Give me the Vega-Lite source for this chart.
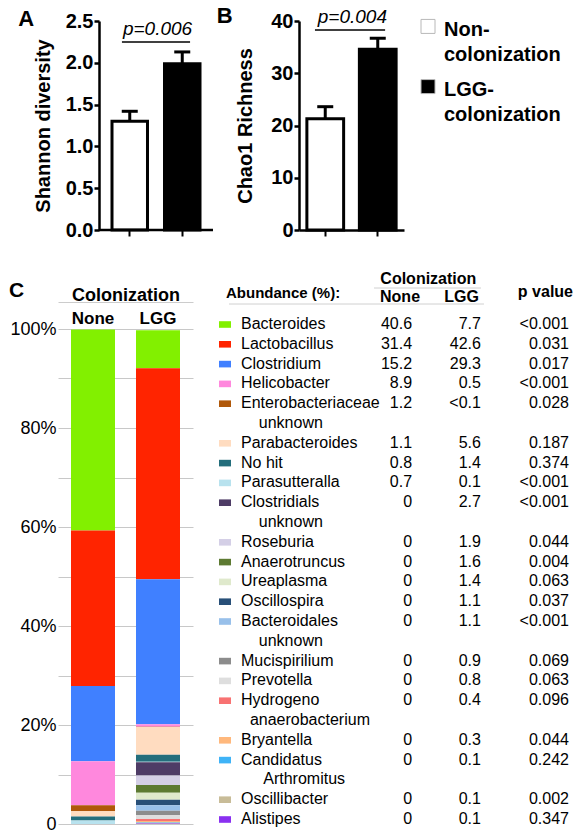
{
  "$schema": "https://vega.github.io/schema/vega-lite/v6.json",
  "background": "white",
  "padding": {"left": 8, "top": 4, "right": 0, "bottom": 0},
  "config": {
    "font": "Liberation Sans",
    "view": {"stroke": null},
    "axis": {"labelColor": "black", "titleColor": "black"},
    "title": {"color": "black"},
    "text": {"color": "black"}
  },
  "datasets": {
    "alpha": [
      {"group": "Non", "mean": 1.30, "upper": 1.42},
      {"group": "LGG", "mean": 1.99, "upper": 2.13}
    ],
    "chao": [
      {"group": "Non", "mean": 21.3, "upper": 23.6},
      {"group": "LGG", "mean": 34.6, "upper": 36.7}
    ],
    "stack": [
      {"group": "None", "taxon": "Bacteroides", "rank": 1, "pct": 40.6},
      {"group": "None", "taxon": "Lactobacillus", "rank": 2, "pct": 31.4},
      {"group": "None", "taxon": "Clostridium", "rank": 3, "pct": 15.2},
      {"group": "None", "taxon": "Helicobacter", "rank": 4, "pct": 8.9},
      {"group": "None", "taxon": "Enterobacteriaceae unknown", "rank": 5, "pct": 1.2},
      {"group": "None", "taxon": "Parabacteroides", "rank": 6, "pct": 1.1},
      {"group": "None", "taxon": "No hit", "rank": 7, "pct": 0.8},
      {"group": "None", "taxon": "Parasutteralla", "rank": 8, "pct": 0.7},
      {"group": "LGG", "taxon": "Bacteroides", "rank": 1, "pct": 7.7},
      {"group": "LGG", "taxon": "Lactobacillus", "rank": 2, "pct": 42.6},
      {"group": "LGG", "taxon": "Clostridium", "rank": 3, "pct": 29.3},
      {"group": "LGG", "taxon": "Helicobacter", "rank": 4, "pct": 0.5},
      {"group": "LGG", "taxon": "Enterobacteriaceae unknown", "rank": 5, "pct": 0.05},
      {"group": "LGG", "taxon": "Parabacteroides", "rank": 6, "pct": 5.6},
      {"group": "LGG", "taxon": "No hit", "rank": 7, "pct": 1.4},
      {"group": "LGG", "taxon": "Parasutteralla", "rank": 8, "pct": 0.1},
      {"group": "LGG", "taxon": "Clostridials unknown", "rank": 9, "pct": 2.7},
      {"group": "LGG", "taxon": "Roseburia", "rank": 10, "pct": 1.9},
      {"group": "LGG", "taxon": "Anaerotruncus", "rank": 11, "pct": 1.6},
      {"group": "LGG", "taxon": "Ureaplasma", "rank": 12, "pct": 1.4},
      {"group": "LGG", "taxon": "Oscillospira", "rank": 13, "pct": 1.1},
      {"group": "LGG", "taxon": "Bacteroidales unknown", "rank": 14, "pct": 1.1},
      {"group": "LGG", "taxon": "Mucispirilium", "rank": 15, "pct": 0.9},
      {"group": "LGG", "taxon": "Prevotella", "rank": 16, "pct": 0.8},
      {"group": "LGG", "taxon": "Hydrogeno anaerobacterium", "rank": 17, "pct": 0.4},
      {"group": "LGG", "taxon": "Bryantella", "rank": 18, "pct": 0.3},
      {"group": "LGG", "taxon": "Candidatus Arthromitus", "rank": 19, "pct": 0.1},
      {"group": "LGG", "taxon": "Oscillibacter", "rank": 20, "pct": 0.1},
      {"group": "LGG", "taxon": "Alistipes", "rank": 21, "pct": 0.1}
    ],
    "table": [
      {"taxon": "Bacteroides", "label": "Bacteroides", "none": "40.6", "lgg": "7.7", "p": "<0.001"},
      {"taxon": "Lactobacillus", "label": "Lactobacillus", "none": "31.4", "lgg": "42.6", "p": "0.031"},
      {"taxon": "Clostridium", "label": "Clostridium", "none": "15.2", "lgg": "29.3", "p": "0.017"},
      {"taxon": "Helicobacter", "label": "Helicobacter", "none": "8.9", "lgg": "0.5", "p": "<0.001"},
      {"taxon": "Enterobacteriaceae unknown", "label": "Enterobacteriaceae\n\u200b\u00a0\u00a0\u00a0\u00a0unknown", "none": "1.2", "lgg": "<0.1", "p": "0.028"},
      {"taxon": "Parabacteroides", "label": "Parabacteroides", "none": "1.1", "lgg": "5.6", "p": "0.187"},
      {"taxon": "No hit", "label": "No hit", "none": "0.8", "lgg": "1.4", "p": "0.374"},
      {"taxon": "Parasutteralla", "label": "Parasutteralla", "none": "0.7", "lgg": "0.1", "p": "<0.001"},
      {"taxon": "Clostridials unknown", "label": "Clostridials\n\u200b\u00a0\u00a0\u00a0\u00a0unknown", "none": "0", "lgg": "2.7", "p": "<0.001"},
      {"taxon": "Roseburia", "label": "Roseburia", "none": "0", "lgg": "1.9", "p": "0.044"},
      {"taxon": "Anaerotruncus", "label": "Anaerotruncus", "none": "0", "lgg": "1.6", "p": "0.004"},
      {"taxon": "Ureaplasma", "label": "Ureaplasma", "none": "0", "lgg": "1.4", "p": "0.063"},
      {"taxon": "Oscillospira", "label": "Oscillospira", "none": "0", "lgg": "1.1", "p": "0.037"},
      {"taxon": "Bacteroidales unknown", "label": "Bacteroidales\n\u200b\u00a0\u00a0\u00a0\u00a0unknown", "none": "0", "lgg": "1.1", "p": "<0.001"},
      {"taxon": "Mucispirilium", "label": "Mucispirilium", "none": "0", "lgg": "0.9", "p": "0.069"},
      {"taxon": "Prevotella", "label": "Prevotella", "none": "0", "lgg": "0.8", "p": "0.063"},
      {"taxon": "Hydrogeno anaerobacterium", "label": "Hydrogeno\n\u200b\u00a0\u00a0anaerobacterium", "none": "0", "lgg": "0.4", "p": "0.096"},
      {"taxon": "Bryantella", "label": "Bryantella", "none": "0", "lgg": "0.3", "p": "0.044"},
      {"taxon": "Candidatus Arthromitus", "label": "Candidatus\n\u200b\u00a0\u00a0\u00a0\u00a0\u00a0Arthromitus", "none": "0", "lgg": "0.1", "p": "0.242"},
      {"taxon": "Oscillibacter", "label": "Oscillibacter", "none": "0", "lgg": "0.1", "p": "0.002"},
      {"taxon": "Alistipes", "label": "Alistipes", "none": "0", "lgg": "0.1", "p": "0.347"}
    ]
  },
  "spacing": 31,
  "vconcat": [
    {
      "spacing": 1,
      "hconcat": [
        {
          "width": 155,
          "height": 209,
          "title": {"text": "A", "anchor": "start", "fontSize": 22, "fontWeight": "bold", "dx": -15, "offset": -20},
          "data": {"name": "alpha"},
          "encoding": {
            "x": {"field": "group", "type": "nominal", "sort": ["Non", "LGG"],
              "scale": {"domain": ["Non", "LGG"], "paddingInner": 0.324, "paddingOuter": 0.638, "align": 0.806},
              "axis": {"title": null, "labels": false, "domain": false, "tickColor": "black", "tickWidth": 2, "tickSize": 6}}
          },
          "layer": [
            {
              "mark": {"type": "bar", "stroke": "black", "strokeWidth": 3},
              "encoding": {
                "y": {"field": "mean", "type": "quantitative", "scale": {"domain": [0, 2.5], "nice": false},
                  "axis": {"title": "Shannon diversity", "offset": -41, "values": [0, 0.5, 1, 1.5, 2, 2.5], "format": ".1f", "labelFontSize": 20, "labelFontWeight": "bold", "titleFontSize": 20, "titleFontWeight": "bold", "domainColor": "black", "domainWidth": 2.5, "tickColor": "black", "tickWidth": 2.5, "tickSize": 5, "labelPadding": 1, "titlePadding": 12, "grid": false}},
                "fill": {"field": "group", "type": "nominal", "scale": {"domain": ["Non", "LGG"], "range": ["white", "black"]}, "legend": null}
              }
            },
            {
              "mark": {"type": "rule", "strokeWidth": 3, "color": "black"},
              "encoding": {"y": {"field": "mean", "type": "quantitative"}, "y2": {"field": "upper"}}
            },
            {
              "mark": {"type": "tick", "thickness": 3, "size": 16, "color": "black", "opacity": 1},
              "encoding": {"y": {"field": "upper", "type": "quantitative"}}
            },
            {
              "data": {"values": [{}]},
              "mark": {"type": "rule", "strokeWidth": 2.5, "color": "black"},
              "encoding": {
                "x": {"datum": "Non", "bandPosition": -0.366},
                "x2": {"datum": "LGG", "bandPosition": 1.366},
                "y": {"datum": 0, "type": "quantitative"}
              }
            },
            {
              "data": {"values": [{}]},
              "mark": {"type": "rule", "strokeWidth": 1.5, "color": "black"},
              "encoding": {
                "x": {"datum": "Non", "bandPosition": 0.28},
                "x2": {"datum": "LGG", "bandPosition": 0.72},
                "y": {"datum": 2.25, "type": "quantitative"}
              }
            },
            {
              "data": {"values": [{}]},
              "mark": {"type": "text", "fontStyle": "italic", "fontSize": 19, "align": "center", "baseline": "alphabetic", "dx": -7, "dy": -7},
              "encoding": {
                "x": {"datum": "LGG", "bandPosition": 0},
                "y": {"datum": 2.25, "type": "quantitative"},
                "text": {"value": "p=0.006"}
              }
            }
          ]
        },
        {
          "width": 105,
          "height": 209,
          "title": {"text": "B", "anchor": "start", "fontSize": 22, "fontWeight": "bold", "dx": -19, "offset": -20},
          "data": {"name": "chao"},
          "encoding": {
            "x": {"field": "group", "type": "nominal", "sort": ["Non", "LGG"],
              "scale": {"domain": ["Non", "LGG"], "paddingInner": 0.3, "paddingOuter": 0.15},
              "axis": {"title": null, "labels": false, "domainColor": "black", "domainWidth": 2.5, "tickColor": "black", "tickWidth": 2, "tickSize": 6}}
          },
          "layer": [
            {
              "mark": {"type": "bar", "stroke": "black", "strokeWidth": 3},
              "encoding": {
                "y": {"field": "mean", "type": "quantitative", "scale": {"domain": [0, 40], "nice": false},
                  "axis": {"title": "Chao1 Richness", "values": [0, 10, 20, 30, 40], "format": "d", "labelFontSize": 20, "labelFontWeight": "bold", "titleFontSize": 20, "titleFontWeight": "bold", "domainColor": "black", "domainWidth": 2.5, "tickColor": "black", "tickWidth": 2.5, "tickSize": 5, "labelPadding": 1, "titlePadding": 15, "grid": false}},
                "fill": {"field": "group", "type": "nominal", "scale": {"domain": ["Non", "LGG"], "range": ["white", "black"]}, "legend": null}
              }
            },
            {
              "mark": {"type": "rule", "strokeWidth": 3, "color": "black"},
              "encoding": {"y": {"field": "mean", "type": "quantitative"}, "y2": {"field": "upper"}}
            },
            {
              "mark": {"type": "tick", "thickness": 3, "size": 16, "color": "black", "opacity": 1},
              "encoding": {"y": {"field": "upper", "type": "quantitative"}}
            },
            {
              "data": {"values": [{}]},
              "mark": {"type": "rule", "strokeWidth": 1.5, "color": "black"},
              "encoding": {
                "x": {"datum": "Non", "bandPosition": 0.22},
                "x2": {"datum": "LGG", "bandPosition": 0.7},
                "y": {"datum": 38.3, "type": "quantitative"}
              }
            },
            {
              "data": {"values": [{}]},
              "mark": {"type": "text", "fontStyle": "italic", "fontSize": 19, "align": "center", "baseline": "alphabetic", "dx": -7, "dy": -7},
              "encoding": {
                "x": {"datum": "LGG", "bandPosition": 0},
                "y": {"datum": 38.3, "type": "quantitative"},
                "text": {"value": "p=0.004"}
              }
            }
          ]
        },
        {
          "width": 46,
          "height": 71,
          "data": {"values": [{"group": "Non", "label": "Non-\ncolonization"}, {"group": "LGG", "label": "LGG-\ncolonization"}]},
          "encoding": {
            "y": {"field": "group", "type": "nominal", "scale": {"type": "point", "domain": ["Non", "LGG"], "padding": 0.09}, "axis": null}
          },
          "layer": [
            {
              "mark": {"type": "point", "shape": "square", "filled": true, "size": 196, "stroke": "#b8b8b8", "strokeWidth": 1, "opacity": 1},
              "encoding": {"fill": {"field": "group", "type": "nominal", "scale": {"domain": ["Non", "LGG"], "range": ["white", "black"]}, "legend": null}}
            },
            {
              "mark": {"type": "text", "align": "left", "baseline": "alphabetic", "dx": 16, "dy": 9.5, "fontSize": 20, "fontWeight": "bold", "lineBreak": "\n", "lineHeight": 25},
              "encoding": {"text": {"field": "label"}}
            }
          ]
        }
      ]
    },
    {
      "spacing": 26,
      "hconcat": [
        {
          "width": 135,
          "height": 495,
          "title": {"text": "C", "anchor": "start", "fontSize": 21, "fontWeight": "bold", "dx": -1, "offset": -15},
          "data": {"name": "stack"},
          "mark": {"type": "bar"},
          "encoding": {
            "x": {"field": "group", "type": "nominal", "sort": ["None", "LGG"],
              "scale": {"domain": ["None", "LGG"], "paddingInner": 0.323, "paddingOuter": 0.2},
              "axis": {"orient": "top", "title": "Colonization", "offset": 27, "ticks": false, "tickSize": 0, "labelPadding": -21, "labelBaseline": "alphabetic", "labelAngle": 0, "labelFontSize": 17, "labelFontWeight": "bold", "titleFontSize": 18, "titleFontWeight": "bold", "titlePadding": -2, "domainColor": "#cccccc", "domainWidth": 1}},
            "y": {"field": "pct", "type": "quantitative", "stack": "zero", "scale": {"domain": [0, 100], "nice": false},
              "axis": {"title": null, "values": [0, 10, 20, 30, 40, 50, 60, 70, 80, 90, 100], "labelExpr": "datum.value % 20 == 0 ? (datum.value == 0 ? '0' : datum.value + '%') : ''", "labelFontSize": 18, "labelPadding": 2, "ticks": false, "domain": false, "grid": true, "gridColor": "#c8c8c8", "gridWidth": 1}},
            "color": {"field": "taxon", "type": "nominal",
              "scale": {
                "domain": ["Bacteroides", "Lactobacillus", "Clostridium", "Helicobacter", "Enterobacteriaceae unknown", "Parabacteroides", "No hit", "Parasutteralla", "Clostridials unknown", "Roseburia", "Anaerotruncus", "Ureaplasma", "Oscillospira", "Bacteroidales unknown", "Mucispirilium", "Prevotella", "Hydrogeno anaerobacterium", "Bryantella", "Candidatus Arthromitus", "Oscillibacter", "Alistipes"],
                "range": ["#82f000", "#ff2400", "#4080ff", "#ff88dd", "#b0580a", "#ffdcc0", "#246e7c", "#b8e2ee", "#4e3c66", "#d4cfe6", "#5d7a32", "#dfe9cc", "#284f78", "#98c0ea", "#8c8c8c", "#dedede", "#f87272", "#ffb87c", "#3fb3f7", "#c8bc98", "#8a30f0"]
              },
              "legend": null},
            "order": {"field": "rank", "type": "quantitative", "sort": "descending"}
          }
        },
        {
          "width": 328,
          "height": 495,
          "layer": [
            {
              "data": {"name": "table"},
              "mark": {"type": "point", "shape": "M-1,-0.55H1V0.55H-1Z", "filled": true, "size": 144, "opacity": 1, "strokeWidth": 0, "xOffset": -16, "yOffset": -4.5},
              "encoding": {
                "x": {"datum": "name", "type": "nominal", "scale": {"type": "point", "domain": ["name", "none", "lgg", "p"], "padding": 0}, "axis": null},
                "y": {"field": "taxon", "type": "nominal", "scale": {"type": "point", "padding": 0, "domain": ["Bacteroides", "Lactobacillus", "Clostridium", "Helicobacter", "Enterobacteriaceae unknown", "~1", "Parabacteroides", "No hit", "Parasutteralla", "Clostridials unknown", "~2", "Roseburia", "Anaerotruncus", "Ureaplasma", "Oscillospira", "Bacteroidales unknown", "~3", "Mucispirilium", "Prevotella", "Hydrogeno anaerobacterium", "~4", "Bryantella", "Candidatus Arthromitus", "~5", "Oscillibacter", "Alistipes"]}, "axis": null},
                "color": {"field": "taxon", "type": "nominal",
                  "scale": {
                    "domain": ["Bacteroides", "Lactobacillus", "Clostridium", "Helicobacter", "Enterobacteriaceae unknown", "Parabacteroides", "No hit", "Parasutteralla", "Clostridials unknown", "Roseburia", "Anaerotruncus", "Ureaplasma", "Oscillospira", "Bacteroidales unknown", "Mucispirilium", "Prevotella", "Hydrogeno anaerobacterium", "Bryantella", "Candidatus Arthromitus", "Oscillibacter", "Alistipes"],
                    "range": ["#82f000", "#ff2400", "#4080ff", "#ff88dd", "#b0580a", "#ffdcc0", "#246e7c", "#b8e2ee", "#4e3c66", "#d4cfe6", "#5d7a32", "#dfe9cc", "#284f78", "#98c0ea", "#8c8c8c", "#dedede", "#f87272", "#ffb87c", "#3fb3f7", "#c8bc98", "#8a30f0"]
                  },
                  "legend": null}
              }
            },
            {
              "data": {"name": "table"},
              "mark": {"type": "text", "align": "left", "baseline": "alphabetic", "fontSize": 16, "lineBreak": "\n", "lineHeight": 19.8},
              "encoding": {
                "x": {"datum": "name", "type": "nominal"},
                "y": {"field": "taxon", "type": "nominal"},
                "text": {"field": "label"}
              }
            },
            {
              "data": {"name": "table"},
              "mark": {"type": "text", "align": "right", "baseline": "alphabetic", "fontSize": 16, "dx": 61.7},
              "encoding": {
                "x": {"datum": "none", "type": "nominal"},
                "y": {"field": "taxon", "type": "nominal"},
                "text": {"field": "none"}
              }
            },
            {
              "data": {"name": "table"},
              "mark": {"type": "text", "align": "right", "baseline": "alphabetic", "fontSize": 16, "dx": 21.3},
              "encoding": {
                "x": {"datum": "lgg", "type": "nominal"},
                "y": {"field": "taxon", "type": "nominal"},
                "text": {"field": "lgg"}
              }
            },
            {
              "data": {"name": "table"},
              "mark": {"type": "text", "align": "right", "baseline": "alphabetic", "fontSize": 16},
              "encoding": {
                "x": {"datum": "p", "type": "nominal"},
                "y": {"field": "taxon", "type": "nominal"},
                "text": {"field": "p"}
              }
            },
            {
              "data": {"values": [{}]},
              "mark": {"type": "text", "align": "left", "baseline": "alphabetic", "fontSize": 15, "fontWeight": "bold", "dx": -15, "dy": -31},
              "encoding": {
                "x": {"datum": "name", "type": "nominal"},
                "y": {"datum": "Bacteroides", "type": "nominal"},
                "text": {"value": "Abundance (%):"}
              }
            },
            {
              "data": {"values": [{}]},
              "mark": {"type": "text", "align": "center", "baseline": "alphabetic", "fontSize": 16, "fontWeight": "bold", "dx": 78, "dy": -45},
              "encoding": {
                "x": {"datum": "none", "type": "nominal"},
                "y": {"datum": "Bacteroides", "type": "nominal"},
                "text": {"value": "Colonization"}
              }
            },
            {
              "data": {"values": [{}]},
              "mark": {"type": "text", "align": "center", "baseline": "alphabetic", "fontSize": 16, "fontWeight": "bold", "dx": 49.7, "dy": -27},
              "encoding": {
                "x": {"datum": "none", "type": "nominal"},
                "y": {"datum": "Bacteroides", "type": "nominal"},
                "text": {"value": "None"}
              }
            },
            {
              "data": {"values": [{}]},
              "mark": {"type": "text", "align": "center", "baseline": "alphabetic", "fontSize": 16, "fontWeight": "bold", "dx": 2, "dy": -27},
              "encoding": {
                "x": {"datum": "lgg", "type": "nominal"},
                "y": {"datum": "Bacteroides", "type": "nominal"},
                "text": {"value": "LGG"}
              }
            },
            {
              "data": {"values": [{}]},
              "mark": {"type": "text", "align": "right", "baseline": "alphabetic", "fontSize": 16, "fontWeight": "bold", "dx": 4, "dy": -32},
              "encoding": {
                "x": {"datum": "p", "type": "nominal"},
                "y": {"datum": "Bacteroides", "type": "nominal"},
                "text": {"value": "p value"}
              }
            },
            {
              "data": {"values": [{}]},
              "mark": {"type": "rule", "color": "#d0d0d0", "strokeWidth": 1, "xOffset": 23.7, "x2Offset": 21.3, "yOffset": -41},
              "encoding": {
                "x": {"datum": "none", "type": "nominal"},
                "x2": {"datum": "lgg"},
                "y": {"datum": "Bacteroides", "type": "nominal"}
              }
            },
            {
              "data": {"values": [{}]},
              "mark": {"type": "rule", "color": "#d0d0d0", "strokeWidth": 1, "xOffset": -12, "x2Offset": 24.3, "yOffset": -25},
              "encoding": {
                "x": {"datum": "name", "type": "nominal"},
                "x2": {"datum": "lgg"},
                "y": {"datum": "Bacteroides", "type": "nominal"}
              }
            }
          ]
        }
      ]
    }
  ]
}
